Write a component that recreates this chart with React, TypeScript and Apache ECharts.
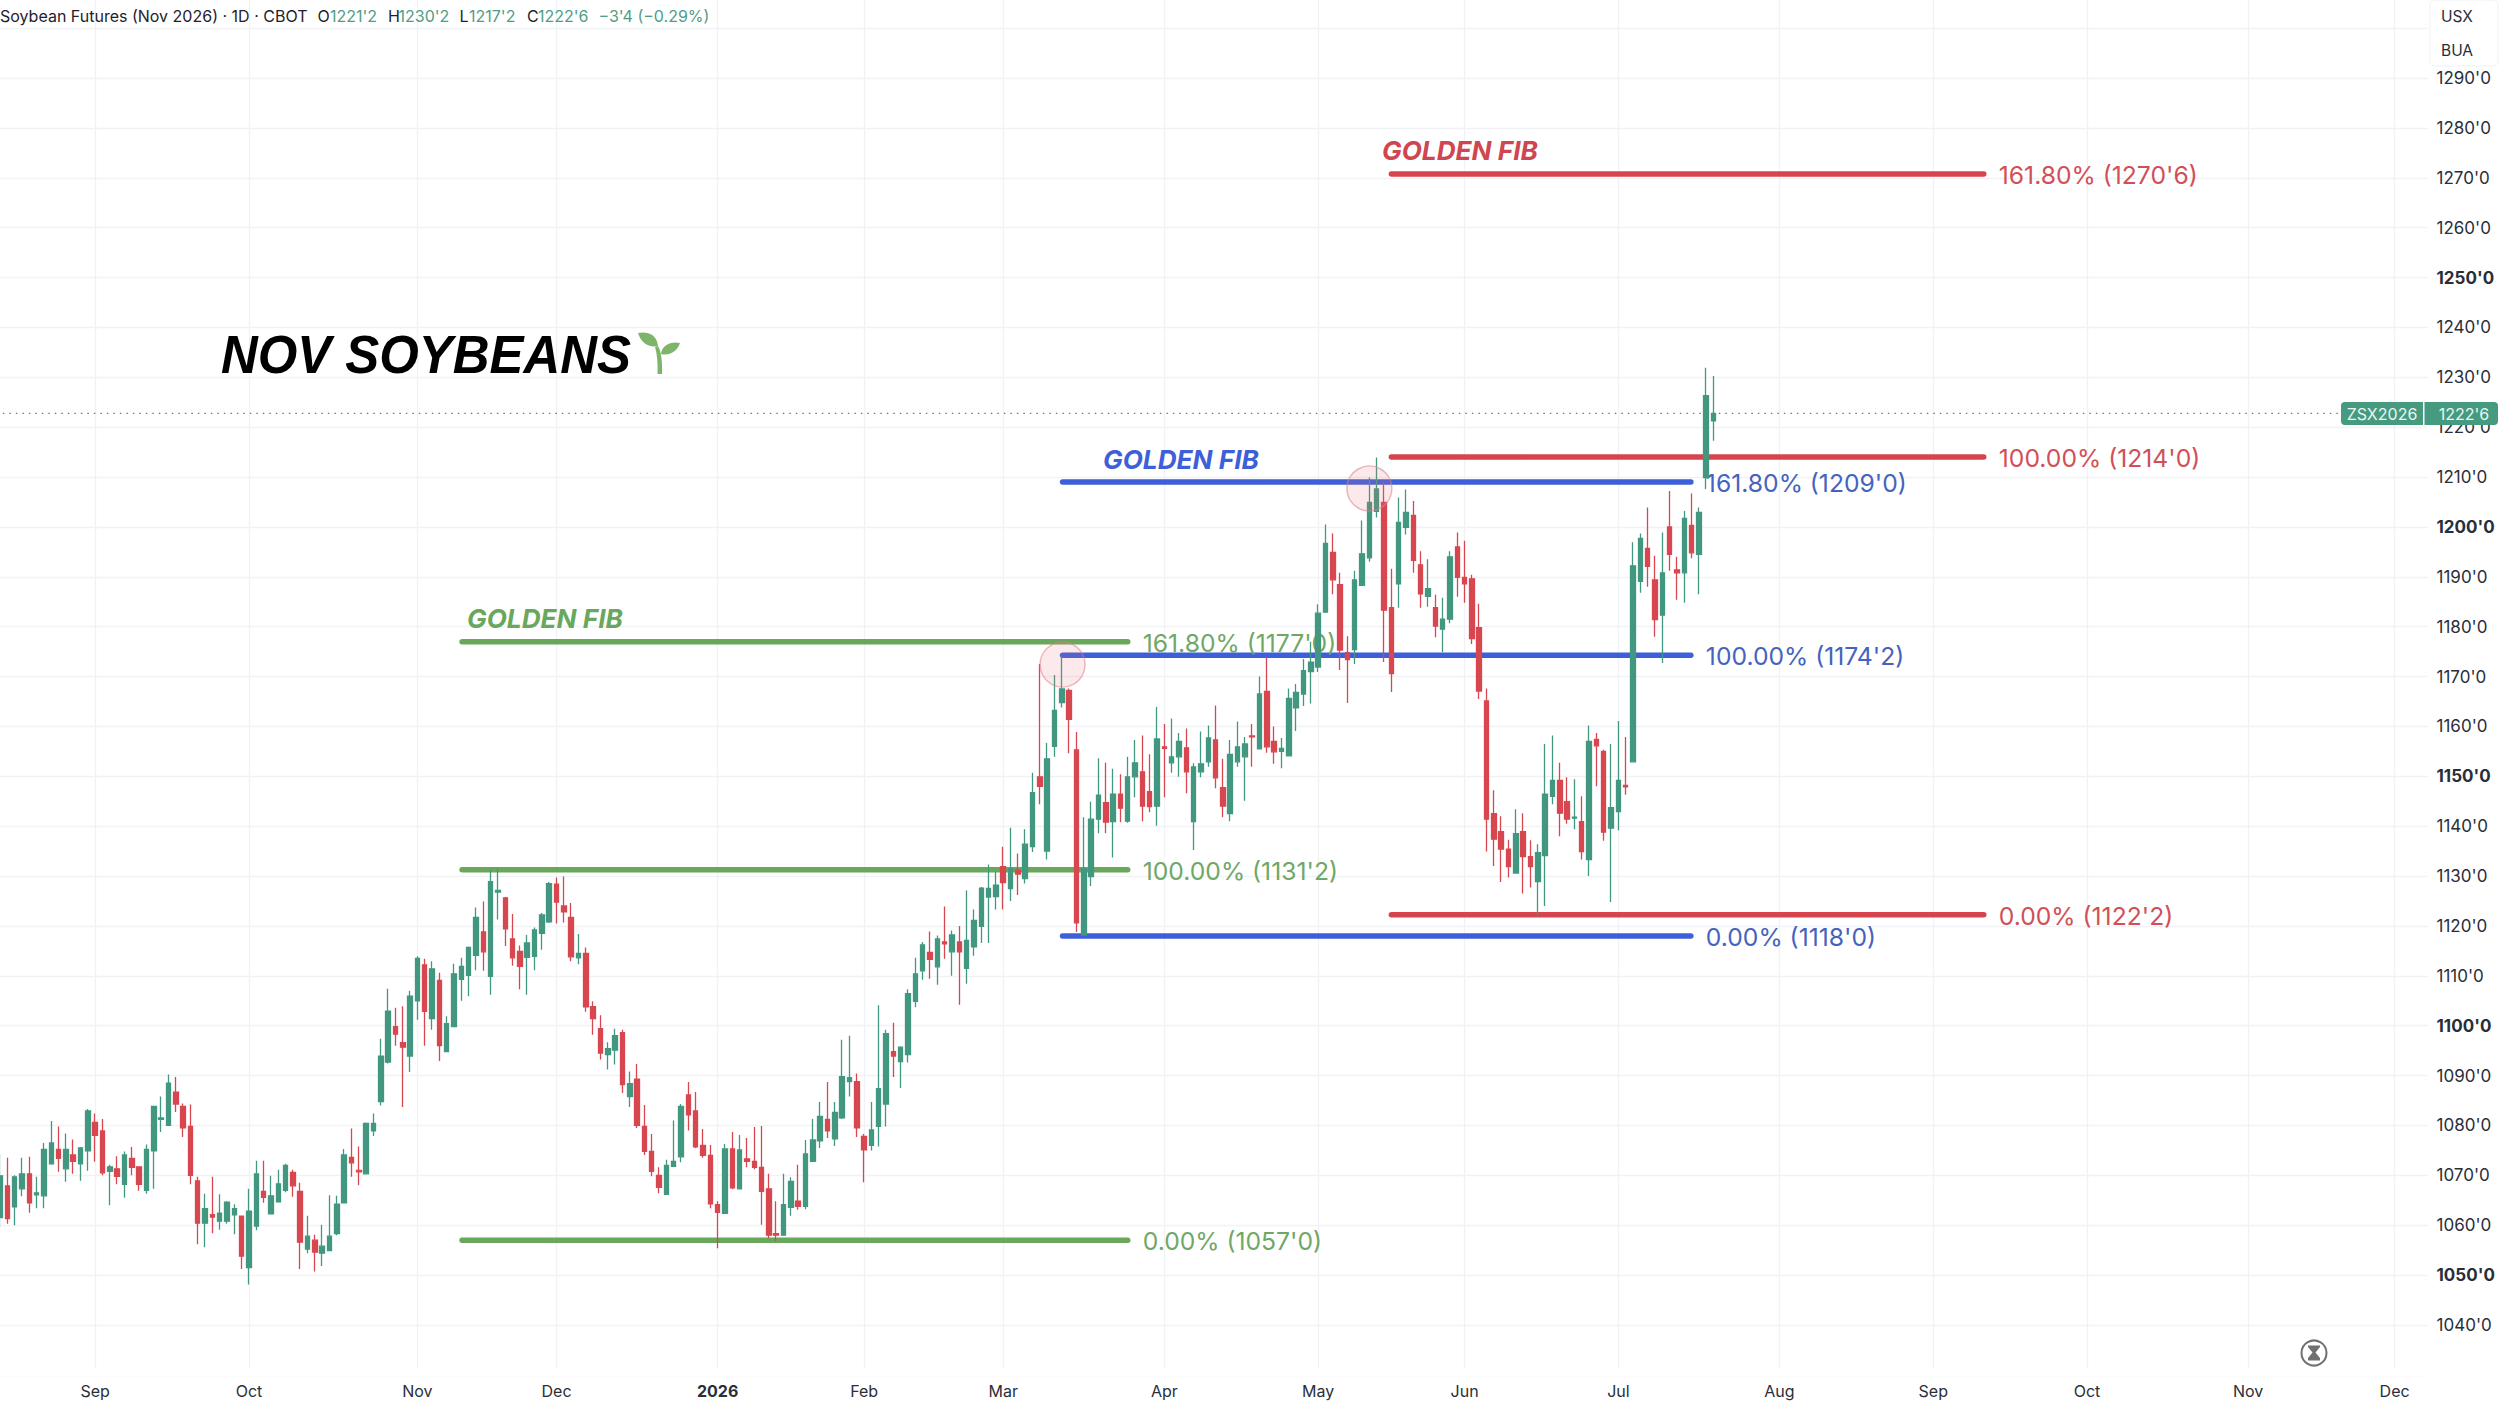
import React, { useEffect, useRef } from "react";
import * as echarts from "echarts";

const barCount = 332;
const monthStartBars = [13, 34, 57, 76, 98, 118, 137, 159, 180, 200, 221, 243, 264, 285, 307, 327];
const monthLabels = ["Sep", "Oct", "Nov", "Dec", "2026", "Feb", "Mar", "Apr", "May", "Jun", "Jul", "Aug", "Sep", "Oct", "Nov", "Dec"];

const opens = [
  1061.5,1067.9,1063.7,1067.3,1070.3,1066.1,1065.9,1072.3,1075.2,1071.3,
  1074.1,1072.3,1074.9,1080.6,1078.9,1070.8,1071.3,1068.2,1073.4,1071.7,
  1067,1074.9,1081.2,1080,1086.7,1083.8,1079.8,1068.9,1060.4,1062.1,
  1060.8,1060.8,1062.1,1061.8,1051.5,1059.8,1066.8,1062.3,1064.7,1067,
  1070.6,1066.8,1055.2,1057,1054.4,1054.9,1058.3,1064.5,1073.6,1071,
  1070.3,1078.9,1084.8,1092.7,1099.8,1096.6,1093.9,1105,1112.2,1101.4,
  1109.1,1094.8,1099.8,1109.3,1110.1,1114.1,1118.8,1109.9,1126.8,1125.6,
  1117.4,1114.9,1113.7,1113.9,1118.5,1120.8,1128.4,1124,1121.7,1113.6,
  1114.5,1103.8,1099.4,1094.2,1095.1,1098.6,1085.8,1089.3,1079.8,1074.8,
  1070,1066.2,1071.8,1073.7,1086.1,1082.9,1076,1074,1064.1,1062.4,
  1075.3,1067.3,1073.3,1072.8,1071.6,1067.3,1058.3,1058,1063.6,1064.8,
  1063.8,1072.8,1076.9,1081.2,1077.3,1081.5,1088.8,1088.8,1077.8,1076,
  1079.8,1084.3,1094.8,1092.8,1094.2,1104.9,1111,1114.7,1111.8,1116.8,
  1114.8,1116.8,1111.5,1115.8,1119.9,1125.8,1125.9,1131.9,1127.5,1131.2,
  1129.5,1135.9,1149.9,1135,1156,1164.8,1167.2,1155.3,1118.2,1129.9,
  1141.4,1144.7,1140.9,1146.4,1141,1149.9,1150.9,1146.9,1144,1155.9,
  1152.7,1153.9,1155.7,1140.9,1150.9,1152.9,1157.3,1147.7,1142.5,1152.9,
  1153.9,1158.1,1155.5,1167,1157,1155,1154.1,1163.7,1166.5,1171,
  1171.9,1182.9,1194.9,1188.4,1174.8,1175.4,1188.3,1193.8,1203.1,1204.9,
  1183.8,1188.6,1199.9,1202.3,1192.4,1186.1,1183.8,1179.5,1181.5,1196,
  1189.9,1189.6,1179.8,1165.1,1142.5,1138.9,1135.4,1130.6,1138.9,1133.9,
  1128.9,1134.1,1146,1149.2,1144.9,1141.6,1140.9,1133.3,1157.4,1155,
  1139.6,1142.9,1148.2,1152.9,1189.1,1195.7,1189.4,1182.3,1200,1191.4,
  1190.8,1200.3,1194.5,1209.9,1221.25,
];
const closes = [
  1069.9,1061.3,1069.7,1070.3,1064.5,1066.5,1075.2,1076.5,1073.4,1075.2,
  1072.8,1075.5,1082.9,1078,1070.5,1071.7,1069.8,1074.1,1071.6,1068.2,
  1075.2,1083.8,1081.5,1088.5,1084.3,1079.5,1070,1060.4,1063.3,1061.6,
  1062.4,1064.6,1063.3,1053.8,1062.8,1070.3,1065.6,1065.9,1068.3,1072,
  1067.9,1056.6,1057.8,1054.6,1055.8,1057.8,1064.2,1074.1,1072.5,1070.7,
  1080.4,1080.4,1093.9,1102.9,1098.3,1095.7,1105.9,1113.5,1102.9,1111.4,
  1096,1100.4,1110.4,1111.9,1115.7,1121.7,1114.8,1128.9,1127.1,1119.4,
  1113.6,1111.9,1116.6,1119.2,1122.2,1128.5,1124.8,1122.8,1113.8,1114.5,
  1103.8,1101.4,1094.5,1095.4,1098,1088.2,1088.4,1080,1074.8,1070.8,
  1067.6,1072,1072.8,1083.8,1082.1,1075.7,1074,1064.3,1062.6,1075.3,
  1067.5,1075.1,1072.8,1071.6,1066.8,1058,1058,1064.1,1068.8,1063.8,
  1074.3,1077.1,1081.8,1078.9,1082.6,1089.8,1089.6,1079.5,1075.1,1079.1,
  1087.4,1098.4,1093.9,1095.7,1106.4,1110.4,1116.2,1113.3,1117.4,1116.4,
  1118.2,1114.8,1117.1,1121.1,1127.6,1127.5,1128.2,1128.7,1131.5,1130.4,
  1136.4,1146.7,1148,1153.5,1163.2,1167.5,1161.4,1120.6,1131.5,1141.4,
  1146.2,1140.8,1146.4,1143.6,1149.9,1152.7,1144,1143.9,1157.5,1155.6,
  1153.9,1157,1150.9,1151.9,1152.5,1157.7,1149.7,1144,1154.4,1155.9,
  1156.5,1157.9,1166.5,1155.9,1154.9,1155.6,1165.6,1166.8,1171.2,1172.9,
  1182.7,1196.7,1189.4,1175.3,1173.4,1189.4,1194.6,1204.9,1207.6,1183.3,
  1170.6,1200.9,1202.9,1193.3,1186.6,1187.6,1180.1,1181.5,1194,1189.9,
  1188.6,1177.6,1167.1,1141.4,1137.4,1135.4,1131.9,1138.5,1133.9,1131.9,
  1134.7,1146.4,1149.2,1142.6,1141.4,1141.8,1134.9,1157,1156.1,1138.8,
  1143.7,1149.2,1147.9,1192.2,1197.7,1192.1,1181.4,1190.8,1194.5,1190.8,
  1201.7,1194.8,1202.9,1226.3,1222.75,
];
const lows = [
  1059.6,1060.3,1060,1065.8,1062.5,1063.4,1063.4,1072.1,1070.7,1068.7,
  1070.3,1068.9,1070.9,1072.7,1070,1064,1068.2,1065.5,1070,1066.9,
  1066.3,1067.3,1078.7,1080,1082.7,1077.7,1068.2,1056.2,1055.6,1058.4,
  1059.1,1060.3,1058.2,1051.2,1048.1,1059,1064.5,1062.2,1064.6,1066.6,
  1065.7,1051.2,1054.4,1050.7,1051.8,1054.8,1058,1064.5,1069.7,1068,
  1070.2,1077.9,1084,1092.4,1096,1083.7,1090.7,1101.2,1096,1099.2,
  1092.9,1094.7,1099.7,1105,1105.9,1111.1,1111,1106.2,1121.3,1116,
  1112,1107.3,1106.2,1111.1,1115.2,1120.6,1120.5,1120.7,1112.9,1112.3,
  1102.8,1098.2,1093.2,1091.2,1092.2,1086.5,1083.7,1079.5,1074.1,1069.8,
  1066.4,1066.1,1071.7,1072.6,1079,1075.5,1073.5,1063.4,1055.4,1062.3,
  1067.2,1067.2,1071.6,1071.2,1060.1,1057.4,1056.8,1057.9,1061.9,1063.1,
  1063.2,1072.7,1075.5,1077.5,1075.9,1081.3,1085.8,1077.7,1068.6,1075,
  1075.8,1079.8,1089.7,1087.5,1092.6,1103.7,1109.2,1109.4,1108.2,1113.4,
  1110,1104.2,1108.4,1114,1116.6,1116.6,1123.3,1123.3,1125,1126.2,
  1128.5,1134.8,1144.4,1133.3,1153.9,1163.8,1154.6,1118.8,1118,1128,
  1138.6,1138.6,1133.7,1140.8,1140.7,1145.8,1141,1142.8,1140.1,1145.8,
  1150.7,1149.9,1146.6,1135.2,1149.8,1151.9,1147.6,1141.8,1141,1151.9,
  1145.1,1151.9,1155.4,1154.7,1152.5,1151.6,1154,1159.1,1164.1,1164.6,
  1170.9,1182.8,1186.5,1171.3,1164.7,1172.5,1188.2,1193,1201.9,1172.9,
  1166.9,1183.8,1198.5,1190.8,1183.8,1184,1177.9,1174.9,1180.7,1186,
  1184.8,1176.5,1165.5,1134.9,1132,1128.8,1129.7,1130.5,1126.5,1127.7,
  1121.8,1124,1144.4,1138,1140.5,1139.4,1133.3,1130,1148,1137.1,
  1124.8,1139.2,1146.3,1152.8,1186.8,1188,1178,1172.7,1191.2,1185.4,
  1184.8,1193.7,1186.5,1207.6,1217.25,
];
const highs = [
  1074.3,1073.5,1070,1073.5,1073.7,1069.7,1076.5,1080.9,1079.8,1078.4,
  1077.2,1075.7,1083.3,1082.4,1081.3,1072.1,1073.8,1074.8,1075.7,1071.7,
  1076.2,1083.8,1085.8,1090.2,1089.7,1084.4,1084.2,1069.7,1066.3,1069.7,
  1066.2,1064.8,1064.2,1061.8,1067.3,1072.9,1072.9,1069.9,1071.1,1072.3,
  1071.1,1068.5,1061.9,1058.1,1060.1,1066,1065.9,1075.3,1079.4,1075.8,
  1080.6,1082.4,1097.4,1107.4,1103.6,1103.9,1107,1113.9,1113.4,1112.9,
  1110.6,1101.9,1112.4,1113.6,1115.9,1123.7,1124.9,1131.2,1131.5,1125.8,
  1122.4,1116.1,1118.2,1119.7,1122.6,1128.8,1129.7,1129.9,1124.6,1118.4,
  1115.7,1104.9,1102.1,1096.7,1099.4,1099.2,1090.8,1092.3,1084.1,1078.3,
  1071.6,1073.1,1081,1084.3,1088.7,1086.7,1079.3,1076.1,1064.8,1076.3,
  1078.7,1078.1,1077.5,1079.7,1079.9,1070.3,1064.8,1070.3,1069.6,1072.1,
  1077.1,1081.3,1084.7,1088.7,1084.7,1097.2,1098,1090.4,1078.3,1084.7,
  1104.1,1099.2,1100.6,1095.9,1107.3,1113.6,1116.8,1118.9,1118.1,1123.9,
  1119.1,1120,1127.1,1123.3,1127.8,1132.3,1130.9,1135.9,1139.7,1134.5,
  1139.4,1150.7,1172.5,1156.7,1170.3,1174,1167.6,1158.9,1141.8,1144.9,
  1153.6,1152.7,1151.5,1150.4,1153.9,1157.3,1158.2,1154.4,1163.9,1160.5,
  1161.6,1158.7,1159.6,1152.6,1159,1160.2,1164.2,1153.5,1157.3,1161,
  1157.9,1160.5,1170,1173.9,1160,1157.7,1167.6,1168.5,1173.5,1177,
  1184.5,1200.5,1198.7,1190.8,1178.1,1191.2,1201.3,1209.9,1213.9,1209,
  1191.6,1205.9,1207.5,1205.2,1195.1,1193.5,1186.4,1185.8,1195.1,1198.9,
  1197.2,1190.4,1184.6,1167.6,1147.2,1142,1137.3,1143.4,1142.6,1137.2,
  1136.4,1156.5,1158.2,1152.7,1149.8,1149.4,1146,1160.2,1158.7,1155.3,
  1156.5,1161.1,1157.9,1196.9,1198.7,1203.9,1194.2,1198.9,1207.2,1194,
  1203.2,1206.7,1203.9,1231.9,1230.25,
];

const greenLevels = [1177, 1131.25, 1057];
const greenLabels = ["161.80% (1177'0)", "100.00% (1131'2)", "0.00% (1057'0)"];
const greenSpan = [63.1, 154.0];
const blueLevels = [1209, 1174.25, 1118];
const blueLabels = ["161.80% (1209'0)", "100.00% (1174'2)", "0.00% (1118'0)"];
const blueSpan = [145.1, 230.9];
const redLevels = [1270.75, 1214, 1122.25];
const redLabels = ["161.80% (1270'6)", "100.00% (1214'0)", "0.00% (1122'2)"];
const redSpan = [190, 270.9];
const touchPoints = [[145.1, 1172.4], [187, 1207.7]];
const lastPrice = 1222.75;
const lastPriceSpan = [-0.5, 319.7];

const UP = "#429780";
const DOWN = "#D8474F";
const UI = "Inter, 'Noto Sans', sans-serif";

echarts.graphic.registerShape(
  "sprout",
  echarts.graphic.extendPath(
    "M0 1 C9 -1 19 2 20 14 C11 16 3 11 0 1 Z M42 11 C33 9 24 13 23 22 C31 24 39 20 42 11 Z M20 14 C23 19 24.5 28 24 42 L19.5 42 C20 30 19 22 17 15 Z",
    {}
  )
);
echarts.graphic.registerShape(
  "hourglass",
  echarts.graphic.extendPath("M0 0 L12 0 L12 1.5 L7.5 7 L12 12.5 L12 15 L0 15 L0 12.5 L4.5 7 L0 1.5 Z", {})
);

const categories = Array.from({ length: barCount }, (_, i) => {
  const m = monthStartBars.indexOf(i);
  return m >= 0 ? monthLabels[m] : String(i);
});

function fibSeries(levels: number[], labels: string[], span: number[], color: string, textColor: string) {
  return levels.map((lv, i) => ({
    type: "line",
    xAxisIndex: 1,
    yAxisIndex: 0,
    z: 2,
    silent: true,
    symbol: "none",
    showSymbol: false,
    data: [[span[0], lv], [span[1], lv]],
    lineStyle: { color, width: 5.5, cap: "round" },
    endLabel: {
      show: true,
      formatter: labels[i],
      color: textColor,
      fontFamily: UI,
      fontSize: 24.7,
      distance: 15,
      offset: [0, 1],
    },
  }));
}

function headerText(text: string, x: number, fill: string) {
  return { type: "text", x, y: 16, z: 60, style: { text, fill, font: `400 16px ${UI}`, textVerticalAlign: "middle" } };
}

function fibTitle(text: string, x: number, y: number, fill: string) {
  return { type: "text", x, y, z: 60, style: { text, fill, font: `italic 700 26.2px ${UI}`, textVerticalAlign: "middle" } };
}

export default function App() {
  const ref = useRef<HTMLDivElement>(null);
  useEffect(() => {
    document.body.style.margin = "0";
    const chart = echarts.init(ref.current!, null, { renderer: "svg" });
    const candles = opens.map((o, i) => [o, closes[i], lows[i], highs[i]]);
    chart.setOption({
      animation: false,
      backgroundColor: "#ffffff",
      grid: { left: -3.66, top: -21.76, width: 2431.2, height: 1396.6, outerBoundsMode: "none" },
      xAxis: [
        {
          type: "category",
          data: categories,
          boundaryGap: true,
          axisLine: { show: false },
          axisTick: { show: false },
          axisLabel: {
            interval: (i: number) => monthStartBars.includes(i),
            formatter: (v: string) => (v === "2026" ? `{b|${v}}` : v),
            color: "#2a2e39",
            fontFamily: UI,
            fontSize: 16,
            margin: 8,
            rich: { b: { fontWeight: 700, fontFamily: UI, fontSize: 16, color: "#2a2e39" } },
          },
          splitLine: {
            show: true,
            alignWithLabel: true,
            interval: (i: number) => monthStartBars.includes(i),
            lineStyle: { color: "#f1f2f5", width: 1.3 },
          },
        },
        { type: "value", min: -0.5, max: barCount - 0.5, show: false, splitLine: { show: false } },
      ],
      yAxis: {
        type: "value",
        position: "right",
        min: 1030,
        max: 1310,
        interval: 10,
        axisLine: { show: false },
        axisTick: { show: false },
        axisLabel: {
          margin: 9,
          color: "#2a2e39",
          fontFamily: UI,
          fontSize: 17,
          formatter: (v: number) => {
            if (v === 1030 || v >= 1300) return "";
            return v % 50 === 0 ? `{b|${v}'0}` : `${v}'0`;
          },
          rich: { b: { fontWeight: 700, fontFamily: UI, fontSize: 17, color: "#2a2e39" } },
        },
        splitLine: { show: true, lineStyle: { color: "#f1f2f5", width: 1.3 } },
      },
      series: [
        {
          type: "line",
          xAxisIndex: 1,
          z: 1,
          silent: true,
          symbol: "none",
          showSymbol: false,
          data: [[lastPriceSpan[0], lastPrice], [lastPriceSpan[1], lastPrice]],
          lineStyle: { color: "#70757f", width: 1.2, type: [1.5, 5] },
        },
        ...fibSeries(greenLevels, greenLabels, greenSpan, "#69A85C", "#6FA866"),
        ...fibSeries(blueLevels, blueLabels, blueSpan, "#3D5FD9", "#4563BE"),
        ...fibSeries(redLevels, redLabels, redSpan, "#D8444E", "#D24F58"),
        {
          type: "candlestick",
          xAxisIndex: 0,
          z: 5,
          barWidth: 5,
          data: candles,
          itemStyle: { color: UP, color0: DOWN, borderColor: UP, borderColor0: DOWN, borderWidth: 1.3 },
        },
        {
          type: "scatter",
          xAxisIndex: 1,
          z: 6,
          silent: true,
          symbolSize: 45,
          data: touchPoints,
          itemStyle: { color: "rgba(232,120,130,0.16)", borderColor: "rgba(222,130,140,0.55)", borderWidth: 1.5, opacity: 1 },
        },
      ],
      graphic: [
        { type: "rect", z: 50, shape: { x: 0, y: 1368, width: 2430, height: 8 }, style: { fill: "#ffffff" } },
        headerText("Soybean Futures (Nov 2026) · 1D · CBOT", 0, "#1f222b"),
        headerText("O", 317.5, "#1f222b"),
        headerText("1221'2", 330, "#4f9d85"),
        headerText("H", 388, "#1f222b"),
        headerText("1230'2", 398.5, "#4f9d85"),
        headerText("L", 459.5, "#1f222b"),
        headerText("1217'2", 469, "#4f9d85"),
        headerText("C", 527, "#1f222b"),
        headerText("1222'6", 538, "#4f9d85"),
        headerText("−3'4 (−0.29%)", 598.5, "#4f9d85"),
        {
          type: "text",
          x: 221,
          y: 355,
          z: 60,
          scaleX: 0.96,
          style: { text: "NOV SOYBEANS", fill: "#000000", font: "italic 700 53px 'Liberation Sans', sans-serif", textVerticalAlign: "middle" },
        },
        { type: "sprout", x: 638, y: 332, z: 60, style: { fill: "#7FB56A" } },
        fibTitle("GOLDEN FIB", 467, 618, "#69A85C"),
        fibTitle("GOLDEN FIB", 1103, 459, "#3D5FD9"),
        fibTitle("GOLDEN FIB", 1382, 150, "#CF4650"),
        { type: "rect", z: 60, shape: { x: 2430, y: 0, width: 68, height: 66, r: 5 }, style: { fill: "#ffffff", stroke: "#f0f1f4", lineWidth: 1 } },
        { type: "text", x: 2441, y: 16, z: 61, style: { text: "USX", fill: "#2a2e39", font: `400 15.5px ${UI}`, textVerticalAlign: "middle" } },
        { type: "text", x: 2441, y: 50, z: 61, style: { text: "BUA", fill: "#2a2e39", font: `400 15.5px ${UI}`, textVerticalAlign: "middle" } },
        { type: "rect", z: 60, shape: { x: 2341, y: 402, width: 82, height: 23, r: [4, 0, 0, 4] }, style: { fill: "#459A80" } },
        { type: "rect", z: 60, shape: { x: 2424.5, y: 402, width: 73.5, height: 23, r: [0, 4, 4, 0] }, style: { fill: "#459A80" } },
        { type: "text", x: 2382, y: 414, z: 61, style: { text: "ZSX2026", fill: "#eaf6f2", font: `400 16px ${UI}`, textAlign: "center", textVerticalAlign: "middle" } },
        { type: "text", x: 2464, y: 414, z: 61, style: { text: "1222'6", fill: "#eaf6f2", font: `400 16px ${UI}`, textAlign: "center", textVerticalAlign: "middle" } },
        { type: "circle", z: 60, shape: { cx: 2314, cy: 1353, r: 12.5 }, style: { fill: "#ffffff", stroke: "#707070", lineWidth: 2 } },
        { type: "hourglass", x: 2308, y: 1345.5, z: 61, style: { fill: "#707070" } },
      ],
    });
    return () => chart.dispose();
  }, []);
  return <div ref={ref} style={{ position: "absolute", left: 0, top: 0, width: 2500, height: 1403 }} />;
}
